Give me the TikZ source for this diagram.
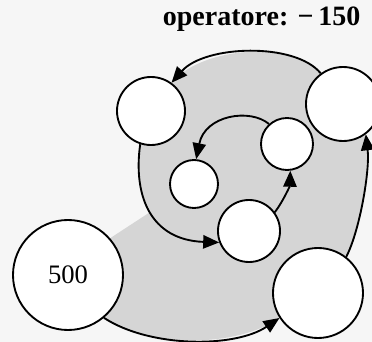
\documentclass[tikz,border=0pt]{standalone}
\usepackage{fontspec}
\setmainfont{Liberation Serif}
\usetikzlibrary{arrows.meta}
\begin{document}
\begin{tikzpicture}[x=0.75pt,y=-0.75pt,
  ring/.style={circle,draw=black,line width=1.4pt,fill=white,inner sep=0pt},
  link/.style={draw=black,line width=1.4pt,-{Triangle[length=12pt,width=10pt]}},
  lab/.style={font=\fontsize{20}{24}\selectfont}
]
\useasboundingbox (0,0) rectangle (372,342);
\fill[gray!7] (0,0) rectangle (372,342);
\fill[gray!33] (68,275) -- (112,237) -- (150.9,211.6) .. controls (139,193.75) and (136.5,170) .. (140,145)
  -- (151,111) -- (172,82) .. controls (205,45) and (295,42) .. (320,72) -- (343,104) -- (366,135)
  .. controls (370,170) and (360,230) .. (347,256) -- (318,293) -- (280,318)
  .. controls (235,348) and (150,348) .. (103,317) -- cycle;
\node[ring,minimum size=82.5pt,lab] (A) at (68,275) {500};
\node[ring,minimum size=51pt] (B) at (151,111) {};
\node[ring,minimum size=55.5pt] (C) at (343,104) {};
\node[ring,minimum size=39pt] (D) at (287,144) {};
\node[ring,minimum size=36pt] (E) at (194,184) {};
\node[ring,minimum size=46.5pt] (F) at (249,231) {};
\node[ring,minimum size=67.5pt] (G) at (318,293) {};
\draw[link] (A.-50) .. controls (150,348) and (235,348) .. (G.-147);
\draw[link] (G.52) .. controls (360,230) and (370,170) .. (C.-53);
\draw[link] (C.126) .. controls (295,42) and (205,45) .. (B.54);
\draw[link] (B.-108) .. controls (133,195) and (150,240) .. (F.-159);
\draw[link] (F.36) .. controls (284,200) and (290,185) .. (D.-83);
\draw[link] (D.132) .. controls (250,108) and (205,115) .. (E.85);
\node[anchor=base east,font=\fontsize{21}{24}\selectfont\bfseries] (title) at (365,26) {operatore: −\,150};
\end{tikzpicture}
\end{document}
